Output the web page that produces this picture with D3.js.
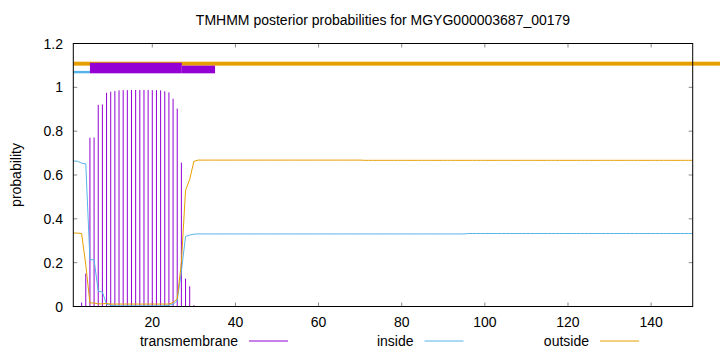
<!DOCTYPE html>
<html lang="en">
<head>
	<meta charset="utf-8">
	<title>TMHMM posterior probabilities</title>
	<style>
		body { margin: 0; background: #fff; }
		text { font-family: "Liberation Sans", Arial, sans-serif; font-size: 14px; fill: #000; }
		.frame { fill: none; stroke: #000; stroke-width: 1px; }
		.tick { stroke: #888; stroke-width: 1px; }
	</style>
</head>
<body>
	<div id="chart"></div>

	<script src="https://d3js.org/d3.v7.min.js"></script>
	<script>
		var
		    width = 720,
		    height = 352;

		// posterior probabilities per residue (1..150)
		var transmembrane = [
			0, 0.001, 0.018, 0.15, 0.77, 0.771, 0.92, 0.922, 0.975, 0.98,
			0.983, 0.986, 0.987, 0.987, 0.988, 0.988, 0.988, 0.988, 0.988, 0.987,
			0.987, 0.986, 0.982, 0.977, 0.948, 0.903, 0.656, 0.127, 0.092, 0.006,
			0.002, 0, 0, 0, 0, 0, 0, 0, 0, 0,
			0, 0, 0, 0, 0, 0, 0, 0, 0, 0,
			0, 0, 0, 0, 0, 0, 0, 0, 0, 0,
			0, 0, 0, 0, 0, 0, 0, 0, 0, 0.002,
			0.002, 0.002, 0.002, 0.002, 0.002, 0.002, 0.002, 0.002, 0.002, 0.002,
			0.002, 0.002, 0.002, 0.002, 0.002, 0.002, 0.002, 0.002, 0.002, 0.002,
			0.002, 0, 0, 0, 0, 0, 0, 0, 0, 0,
			0, 0, 0, 0, 0, 0, 0, 0, 0, 0,
			0, 0, 0, 0, 0, 0, 0, 0, 0, 0,
			0, 0, 0, 0, 0, 0, 0, 0, 0, 0,
			0, 0, 0, 0, 0, 0, 0, 0, 0, 0,
			0, 0, 0, 0, 0, 0, 0, 0, 0, 0
		];

		var inside = [
			0.664, 0.663, 0.654, 0.651, 0.214, 0.213, 0.07, 0.066, 0.01, 0.006,
			0.003, 0.003, 0.003, 0.003, 0.003, 0.003, 0.003, 0.003, 0.003, 0.003,
			0.003, 0.003, 0.003, 0.006, 0.01, 0.026, 0.16, 0.32, 0.326, 0.33,
			0.331, 0.331, 0.331, 0.331, 0.331, 0.331, 0.331, 0.331, 0.331, 0.331,
			0.331, 0.331, 0.331, 0.331, 0.331, 0.331, 0.331, 0.331, 0.331, 0.331,
			0.331, 0.331, 0.331, 0.331, 0.331, 0.331, 0.331, 0.331, 0.331, 0.331,
			0.331, 0.331, 0.331, 0.331, 0.331, 0.331, 0.331, 0.331, 0.331, 0.331,
			0.331, 0.331, 0.331, 0.331, 0.331, 0.331, 0.331, 0.331, 0.331, 0.331,
			0.331, 0.331, 0.331, 0.331, 0.331, 0.331, 0.331, 0.331, 0.331, 0.331,
			0.331, 0.331, 0.331, 0.331, 0.331, 0.333, 0.333, 0.333, 0.333, 0.333,
			0.333, 0.333, 0.333, 0.333, 0.333, 0.333, 0.333, 0.333, 0.333, 0.333,
			0.333, 0.333, 0.333, 0.333, 0.333, 0.333, 0.333, 0.333, 0.333, 0.333,
			0.333, 0.333, 0.333, 0.333, 0.333, 0.333, 0.333, 0.333, 0.333, 0.333,
			0.333, 0.333, 0.333, 0.333, 0.333, 0.333, 0.333, 0.333, 0.333, 0.333,
			0.333, 0.333, 0.333, 0.333, 0.333, 0.333, 0.333, 0.333, 0.333, 0.333
		];

		var outside = [
			0.335, 0.335, 0.333, 0.19, 0.016, 0.016, 0.012, 0.012, 0.014, 0.011,
			0.011, 0.011, 0.011, 0.011, 0.011, 0.011, 0.011, 0.011, 0.011, 0.011,
			0.011, 0.011, 0.011, 0.011, 0.018, 0.035, 0.2, 0.53, 0.58, 0.662,
			0.668, 0.668, 0.668, 0.668, 0.668, 0.668, 0.668, 0.668, 0.668, 0.668,
			0.668, 0.668, 0.668, 0.668, 0.668, 0.668, 0.668, 0.668, 0.668, 0.668,
			0.668, 0.668, 0.668, 0.668, 0.668, 0.668, 0.668, 0.668, 0.668, 0.668,
			0.668, 0.668, 0.668, 0.668, 0.668, 0.668, 0.668, 0.668, 0.668, 0.668,
			0.667, 0.667, 0.667, 0.667, 0.667, 0.667, 0.667, 0.667, 0.667, 0.667,
			0.667, 0.667, 0.667, 0.667, 0.667, 0.667, 0.667, 0.667, 0.667, 0.667,
			0.667, 0.667, 0.667, 0.667, 0.667, 0.667, 0.667, 0.667, 0.667, 0.667,
			0.667, 0.667, 0.667, 0.667, 0.667, 0.667, 0.667, 0.667, 0.667, 0.667,
			0.667, 0.667, 0.667, 0.667, 0.667, 0.667, 0.667, 0.667, 0.667, 0.667,
			0.667, 0.667, 0.667, 0.667, 0.667, 0.667, 0.667, 0.667, 0.667, 0.667,
			0.667, 0.667, 0.667, 0.667, 0.667, 0.667, 0.667, 0.667, 0.667, 0.667,
			0.667, 0.667, 0.667, 0.667, 0.667, 0.667, 0.667, 0.667, 0.667, 0.667
		];

		// predicted topology drawn above the curves: [from, to, yLow, yHigh]
		var outsideBar = [1, 157, 1.099, 1.117];
		var insideBar = [1, 5, 1.064, 1.075];
		var helixBoxes = [
			[5, 27.1, 1.064, 1.112],
			[27.1, 35.1, 1.064, 1.099]
		];

		var xTicks = [20, 40, 60, 80, 100, 120, 140];
		var yTicks = [0, 0.2, 0.4, 0.6, 0.8, 1, 1.2];
		var legendItems = ["transmembrane", "inside", "outside"];

		var colors = { transmembrane: "#9400d3", inside: "#56b4e9", outside: "#e69f00" };

		var x = d3.scaleLinear().domain([1, 150]).range([73.3, 692.7]);
		var y = d3.scaleLinear().domain([0, 1.2]).range([306.5, 43.5]);

		var svg = d3.select("#chart")
				.append("svg")
				.attr("width", width)
				.attr("height", height);

		var residues = d3.range(1, transmembrane.length + 1);

		// ticks (inside, mirrored)
		var ticks = svg.append("g");
		xTicks.forEach(function(t) {
			ticks.append("line").attr("class", "tick")
				.attr("x1", x(t)).attr("x2", x(t)).attr("y1", y(0)).attr("y2", y(0) - 4);
			ticks.append("line").attr("class", "tick")
				.attr("x1", x(t)).attr("x2", x(t)).attr("y1", y(1.2)).attr("y2", y(1.2) + 4);
		});
		yTicks.forEach(function(t) {
			ticks.append("line").attr("class", "tick")
				.attr("x1", x(1)).attr("x2", x(1) + 4).attr("y1", y(t)).attr("y2", y(t));
			ticks.append("line").attr("class", "tick")
				.attr("x1", x(150)).attr("x2", x(150) - 4).attr("y1", y(t)).attr("y2", y(t));
		});

		// impulses
		svg.append("g")
			.selectAll("line")
			.data(residues)
			.enter().append("line")
			.attr("x1", function(d) { return x(d); })
			.attr("x2", function(d) { return x(d); })
			.attr("y1", y(0))
			.attr("y2", function(d) { return y(transmembrane[d - 1]); })
			.attr("stroke", colors.transmembrane)
			.attr("stroke-width", 1);

		var line = function(arr) {
			return d3.line()
				.x(function(d) { return x(d); })
				.y(function(d) { return y(arr[d - 1]); })(residues);
		};

		svg.append("path")
			.attr("d", line(inside))
			.attr("fill", "none")
			.attr("stroke", colors.inside)
			.attr("stroke-width", 1);

		svg.append("path")
			.attr("d", line(outside))
			.attr("fill", "none")
			.attr("stroke", colors.outside)
			.attr("stroke-width", 1);

		// topology bars
		function bar(b, color) {
			svg.append("rect")
				.attr("x", x(b[0]))
				.attr("width", x(b[1]) - x(b[0]))
				.attr("y", y(b[3]))
				.attr("height", y(b[2]) - y(b[3]))
				.attr("fill", color);
		}
		bar(outsideBar, colors.outside);
		bar(insideBar, colors.inside);
		helixBoxes.forEach(function(b) { bar(b, colors.transmembrane); });

		// frame
		svg.append("rect")
			.attr("class", "frame")
			.attr("x", x(1))
			.attr("y", y(1.2))
			.attr("width", x(150) - x(1))
			.attr("height", y(0) - y(1.2));

		// tick labels
		svg.append("g").selectAll("text")
			.data(xTicks)
			.enter().append("text")
			.attr("x", function(d) { return x(d); })
			.attr("y", 327)
			.attr("text-anchor", "middle")
			.text(function(d) { return d; });

		svg.append("g").selectAll("text")
			.data(yTicks)
			.enter().append("text")
			.attr("x", 63)
			.attr("y", function(d) { return y(d) + 5; })
			.attr("text-anchor", "end")
			.text(function(d) { return d; });

		svg.append("text")
			.attr("x", 383)
			.attr("y", 25)
			.attr("text-anchor", "middle")
			.text("TMHMM posterior probabilities for MGYG000003687_00179");

		svg.append("text")
			.attr("transform", "translate(21," + y(0.6) + ") rotate(-90)")
			.attr("text-anchor", "middle")
			.text("probability");

		// legend
		var legend = svg.append("g");
		legendItems.forEach(function(name, i) {
			var right = 238 + i * 175.5;
			legend.append("text")
				.attr("x", right)
				.attr("y", 346)
				.attr("text-anchor", "end")
				.text(name);
			legend.append("line")
				.attr("x1", right + 11)
				.attr("x2", right + 50)
				.attr("y1", 341)
				.attr("y2", 341)
				.attr("stroke", colors[name])
				.attr("stroke-width", 1);
		});
	</script>
</body>
</html>
